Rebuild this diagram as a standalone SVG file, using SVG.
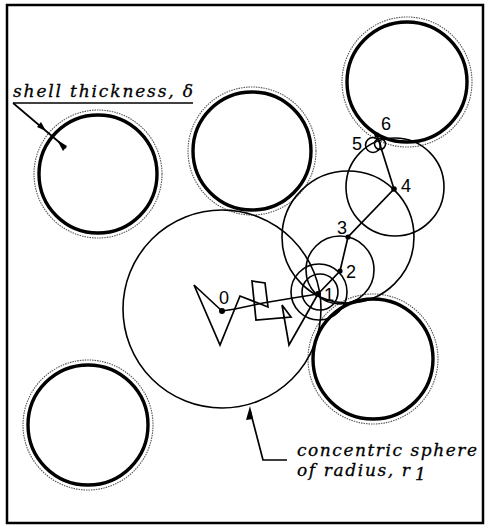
<svg xmlns="http://www.w3.org/2000/svg" width="486" height="527" viewBox="0 0 486 527">
<style>
.shell{fill:none;stroke:#000;stroke-width:3.4}
.ring{fill:none;stroke:#555;stroke-width:1.1;stroke-dasharray:1.5 1}
.sph{fill:none;stroke:#000;stroke-width:1.6}
.ln{fill:none;stroke:#000;stroke-width:1.7;stroke-linejoin:miter}
.dot{fill:#000}
.num{font-family:"Liberation Sans","DejaVu Sans",sans-serif;font-size:18px;fill:#000;text-anchor:middle}
.lab{font-family:"DejaVu Serif","Liberation Serif",serif;font-style:italic;font-size:17px;fill:#000;stroke:#000;stroke-width:0.3}
</style>
<rect x="7" y="5" width="476" height="518" fill="#fff" stroke="#000" stroke-width="2.5"/>
<g id="shell-top-left"><circle class="ring" cx="98" cy="174" r="64"/><circle class="shell" cx="98" cy="174" r="59"/></g>
<g id="shell-top-middle"><circle class="ring" cx="252" cy="151" r="64"/><circle class="shell" cx="252" cy="151" r="59"/></g>
<g id="shell-top-right"><circle class="ring" cx="407" cy="82" r="65"/><circle class="shell" cx="407" cy="82" r="60"/></g>
<g id="shell-bottom-right"><circle class="ring" cx="373" cy="359" r="65"/><circle class="shell" cx="373" cy="359" r="60"/></g>
<g id="shell-bottom-left"><circle class="ring" cx="88" cy="425" r="65"/><circle class="shell" cx="88" cy="425" r="60"/></g>
<g id="spheres">
<circle class="sph" cx="222" cy="309" r="99"/>
<circle class="sph" cx="319" cy="292" r="28"/>
<circle class="sph" cx="320" cy="292" r="18"/>
<circle class="sph" cx="340" cy="270" r="34"/>
<circle class="sph" cx="348" cy="237" r="66"/>
<circle class="sph" cx="395" cy="187" r="49"/>
<circle class="sph" cx="373" cy="145" r="7.5"/>
<circle class="sph" cx="380" cy="144" r="5.5"/>
</g>
<g id="connectors">
<polyline class="ln" points="222,311 194,285 220,345 240,296 258,303 268,307 265,283 252,281 256,320 291,317 282,305 289,345 318,294"/>
<polyline class="ln" points="222,311 235,309 263,303 293,298 318,294"/>
<polyline class="ln" points="318,294 340,271 348,237 394,189 377,135"/>
<line class="ln" x1="13" y1="103" x2="66" y2="148"/>
<line x1="13" y1="103" x2="193" y2="103" stroke="#000" stroke-width="1.6"/>
<polygon points="46,131 37,127 41,122" fill="#000"/>
<polygon points="57,140 67,146 63,151" fill="#000"/>
<polyline class="ln" points="287,460 263,460 250,410"/>
<polygon points="250,406 253,419 246,420" fill="#000"/>
</g>
<g id="points">
<circle class="dot" cx="222" cy="311" r="3"/>
<circle class="dot" cx="318" cy="294" r="3"/>
<circle class="dot" cx="340" cy="271" r="2.6"/>
<circle class="dot" cx="348" cy="237" r="2.6"/>
<circle class="dot" cx="394" cy="189" r="2.8"/>
<circle class="dot" cx="377" cy="135" r="2.6"/>
</g>
<g id="labels">
<text class="num" x="224" y="304">0</text>
<text class="num" x="329" y="301">1</text>
<text class="num" x="351" y="278">2</text>
<text class="num" x="342" y="234">3</text>
<text class="num" x="406" y="192">4</text>
<text class="num" x="357" y="150">5</text>
<text class="num" x="386" y="130">6</text>
<text class="lab" x="13" y="97" textLength="180" lengthAdjust="spacing">shell thickness, δ</text>
<text class="lab" x="297" y="456" textLength="180" lengthAdjust="spacing">concentric sphere</text>
<text class="lab" x="297" y="476" textLength="113" lengthAdjust="spacing">of radius, r</text>
<text class="lab" x="415" y="480" font-size="11" font-style="normal">1</text>
</g>
</svg>
